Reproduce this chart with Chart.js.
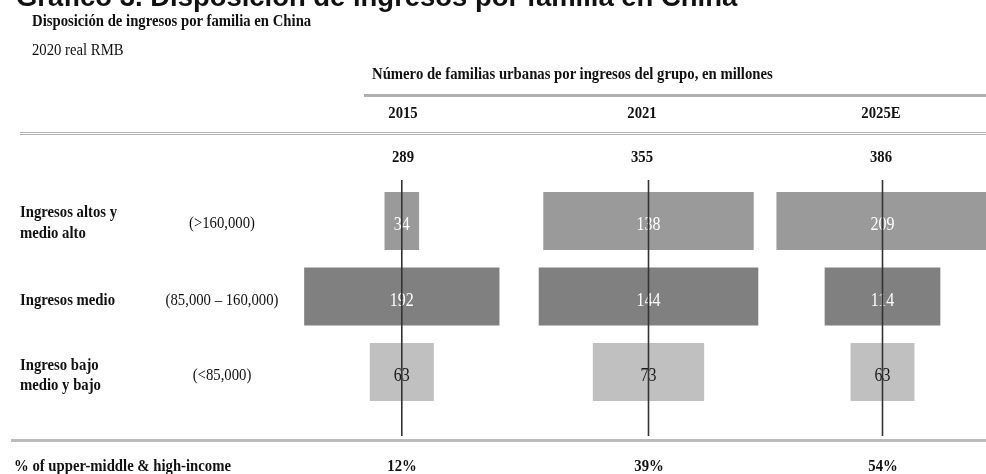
<!DOCTYPE html>
<html>
<head>
<meta charset="utf-8">
<script src="https://cdn.jsdelivr.net/npm/chart.js@4.4.1/dist/chart.umd.min.js"></script>
<style>
  html, body { margin: 0; padding: 0; background: #fff; }
  #wrap { position: relative; width: 986px; height: 474px; overflow: hidden; }
  #chart { position: absolute; left: 0; top: 0; }
  .t { position: absolute; white-space: nowrap; color: #111; font-family: "Liberation Serif", "Times New Roman", serif; }
  .rule { position: absolute; background: #b3b3b3; }
</style>
</head>
<body>
<div id="wrap">
  <canvas id="chart" width="986" height="474"></canvas>
</div>
<script>
// ---- data ----
const years = ['2015', '2021', '2025E'];
const totals = [289, 355, 386];
const groups = ['Ingresos altos y medio alto', 'Ingresos medio', 'Ingreso bajo medio y bajo'];
const groupLines = [['Ingresos altos y', 'medio alto'], ['Ingresos medio'], ['Ingreso bajo', 'medio y bajo']];
const ranges = ['(>160,000)', '(85,000 – 160,000)', '(<85,000)'];
const households2015 = [34, 192, 63];
const households2021 = [138, 144, 73];
const households2025 = [209, 114, 63];
const upperShare = [12, 39, 54];

// ---- layout ----
const W = 986, H = 474;
const colCenter = [401.8, 648.5, 882.5];   // pixel of each column's zero line
const pxPerUnit = [1.017, 1.525, 1.015];   // horizontal scale of each column
const headCenter = [403, 642, 881];
const rowColors = ['#9a9a9a', '#808080', '#c0c0c0'];
const labelColors = ['#ffffff', '#ffffff', '#1a1a1a'];
const series = [households2015, households2021, households2025];
const CONDENSE = 0.92;                      // narrow serif look

const wrap = document.getElementById('wrap');

function addText(txt, x, y, o = {}) {
  const size = o.size || 16;
  const sx = o.sx === undefined ? CONDENSE : o.sx;
  const d = document.createElement('div');
  d.className = 't';
  d.textContent = txt;
  d.style.fontSize = size + 'px';
  d.style.lineHeight = size + 'px';
  d.style.fontWeight = o.bold ? 'bold' : 'normal';
  if (o.family) d.style.fontFamily = o.family;
  d.style.top = (o.top !== undefined ? o.top : (y - size / 2)) + 'px';
  d.style.left = x + 'px';
  if (o.align === 'center') {
    d.style.transform = 'translateX(-50%) scaleX(' + sx + ')';
  } else {
    d.style.transformOrigin = 'left center';
    d.style.transform = 'scaleX(' + sx + ')';
  }
  wrap.appendChild(d);
}

function addRule(x, y, w, h, color) {
  const r = document.createElement('div');
  r.className = 'rule';
  r.style.left = x + 'px';
  r.style.top = y + 'px';
  r.style.width = w + 'px';
  r.style.height = h + 'px';
  if (color) r.style.background = color;
  wrap.appendChild(r);
}

// headings
addText('Gráfico 3. Disposición de ingresos por familia en China', 16, 0,
  { size: 28, bold: true, sx: 0.98, top: -17.5, family: '"Liberation Sans", Arial, sans-serif' });
addText('Disposición de ingresos por familia en China', 32, 21, { bold: true, size: 16 });
addText('2020 real RMB', 32, 50, { size: 16 });
addText('Número de familias urbanas por ingresos del grupo, en millones', 372, 74, { bold: true, size: 16 });

// table rules
addRule(364, 94, W - 364, 2.5, '#b0b0b0');
addRule(20, 131.5, W - 20, 1, '#b0b0b0');
addRule(20, 134, W - 20, 1, '#b0b0b0');
addRule(11, 438.5, W - 11, 3, '#bcbcbc');

// column headers and totals
years.forEach((y, i) => {
  addText(y, headCenter[i], 113, { bold: true, align: 'center' });
  addText(String(totals[i]), headCenter[i], 157, { bold: true, align: 'center' });
  addText(upperShare[i] + '%', colCenter[i], 466, { bold: true, align: 'center' });
});

// row labels
const rowLabelY = [[211.5, 232.5], [300], [364.5, 385]];
const rangeY = [223, 300, 375];
groupLines.forEach((lines, r) => {
  lines.forEach((ln, k) => addText(ln, 20, rowLabelY[r][k], { bold: true }));
  addText(ranges[r], 222, rangeY[r], { align: 'center' });
});
addText('% of upper-middle & high-income', 14, 466, { bold: true });

// ---- chart ----
const xScales = {};
colCenter.forEach((c, i) => {
  xScales['x' + i] = {
    type: 'linear',
    display: false,
    min: -c / pxPerUnit[i],
    max: (W - c) / pxPerUnit[i]
  };
});

const zeroLines = {
  id: 'zeroLines',
  afterDatasetsDraw(chart) {
    const ctx = chart.ctx;
    // value labels, centred on each bar
    chart.data.datasets.forEach((ds, i) => {
      const meta = chart.getDatasetMeta(i);
      meta.data.forEach((bar, r) => {
        const cx = (bar.x + bar.base) / 2;
        ctx.save();
        ctx.font = '19px "Liberation Serif", "Times New Roman", serif';
        ctx.fillStyle = labelColors[r];
        ctx.textAlign = 'center';
        ctx.textBaseline = 'alphabetic';
        ctx.translate(cx, bar.y + 3 + 19 * 0.34);
        ctx.scale(0.84, 1);
        ctx.fillText(String(series[i][r]), 0, 0);
        ctx.restore();
      });
    });
    // vertical reference line through each column
    ctx.save();
    ctx.strokeStyle = '#333333';
    ctx.lineWidth = 1.6;
    colCenter.forEach((c, i) => {
      const px = chart.scales['x' + i].getPixelForValue(0);
      ctx.beginPath();
      ctx.moveTo(px, 180);
      ctx.lineTo(px, 436);
      ctx.stroke();
    });
    ctx.restore();
  }
};

new Chart(document.getElementById('chart'), {
  type: 'bar',
  data: {
    labels: groups,
    datasets: series.map((vals, i) => ({
      label: years[i],
      data: vals.map(v => [-v / 2, v / 2]),
      xAxisID: 'x' + i,
      yAxisID: 'y',
      backgroundColor: rowColors,
      borderWidth: 0,
      grouped: false,
      barPercentage: 0.77,
      categoryPercentage: 1
    }))
  },
  options: {
    indexAxis: 'y',
    responsive: false,
    animation: false,
    events: [],
    devicePixelRatio: 1,
    layout: { padding: { top: 183.25, bottom: H - 409.75, left: 0, right: 0 } },
    scales: Object.assign({
      y: { type: 'category', display: false, offset: true }
    }, xScales),
    plugins: { legend: { display: false }, tooltip: { enabled: false } }
  },
  plugins: [zeroLines]
});
</script>
</body>
</html>
